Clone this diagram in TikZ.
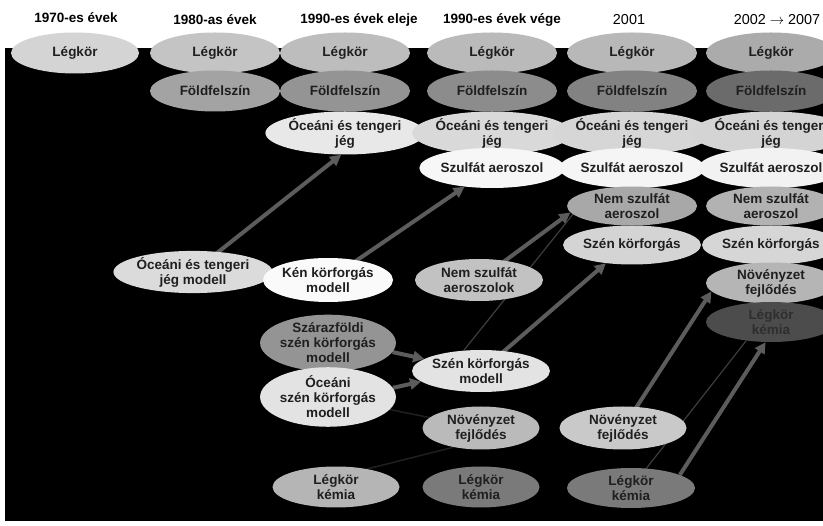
\documentclass[tikz,border=0pt]{standalone}
\usepackage{fontspec}
\setmainfont{Liberation Sans}
\usetikzlibrary{shapes.geometric,arrows.meta,backgrounds}

\begin{document}
\begin{tikzpicture}[x=1pt,y=-1pt,
    box/.style={ellipse,fill=#1,minimum width=130pt,minimum height=41pt,inner sep=0pt,
      align=center,text=black!88,font=\fontsize{13.5}{15}\selectfont\bfseries},
    head/.style={font=\fontsize{13.5}{15}\selectfont\bfseries},
    arr/.style={draw=black!64,line width=4pt,-{Triangle[length=11pt,width=11pt]}},
    thin/.style={draw=black!76,line width=1.2pt},
    faint/.style={draw=black!88,line width=1.5pt}]
    \useasboundingbox (0,0) rectangle (823,526);
    \clip (0,0) rectangle (823,526);

    \node[head] (h1) at (76,18) {1970-es évek};
    \node[head] (h2) at (215,20) {1980-as évek};
    \node[head] (h3) at (359,20) {1990-es évek eleje};
    \node[head] (h4) at (502,20) {1990-es évek vége};
    \node[font=\fontsize{14.4}{16}\selectfont] (h5) at (629,20) {2001};
    \node[font=\fontsize{14.4}{16}\selectfont] (h6) at (777,20) {2002 $\rightarrow$ 2007};

    \node[box=black!17,minimum width=128pt] (lk1) at (75,53) {Légkör};
    \foreach \n/\x/\g in {lk2/215/23,lk3/345/26,lk4/492/27,lk5/632/28,lk6/771/33}
      \node[box=black!\g] (\n) at (\x,53) {Légkör};
    \foreach \n/\x/\g in {ff2/215/36,ff3/345/42,ff4/492/45,ff5/632/49,ff6/771/58}
      \node[box=black!\g] (\n) at (\x,91) {Földfelszín};
    \foreach \n/\x/\g in {oj3/345/9,oj4/492/15,oj5/632/16,oj6/771/17}
      \node[box=black!\g,minimum height=43pt] (\n) at (\x,133) {Óceáni és tengeri\\jég};
    \foreach \n/\x/\g in {sa4/492/3,sa5/632/4,sa6/771/5}
      \node[box=black!\g,minimum height=40pt] (\n) at (\x,168) {Szulfát aeroszol};
    \node[box=black!34,minimum height=39pt] (ns5) at (632,206) {Nem szulfát\\aeroszol};
    \node[box=black!30,minimum height=39pt] (ns6) at (771,206) {Nem szulfát\\aeroszol};
    \node[box=black!17,minimum height=39pt] (sk5) at (632,245) {Szén körforgás};
    \node[box=black!16,minimum height=39pt] (sk6) at (771,245) {Szén körforgás};
    \node[box=black!29] (nf6) at (771,283) {Növényzet\\fejlődés};
    \node[box=black!70,minimum height=40pt,text=black!82] (lkk6) at (771,322) {Légkör\\kémia};

    \node[box=black!14,minimum width=127pt] (ojm) at (193,272) {Óceáni és tengeri\\jég modell};
    \node[box=black!2,minimum height=44pt] (kkm) at (328,280) {Kén körforgás\\modell};
    \node[box=black!24,minimum width=128pt,minimum height=42pt] (nsa) at (479,280) {Nem szulfát\\aeroszolok};
    \node[box=black!42,minimum width=127pt,minimum height=42pt] (szm) at (328,343) {Szárazföldi\\szén körforgás\\modell};
    \node[box=black!11,minimum width=129pt,minimum height=43pt] (oszm) at (328,397) {Óceáni\\szén körforgás\\modell};
    \node[box=black!11,minimum width=115pt,minimum height=42pt] (skm) at (481,371) {Szén körforgás\\modell};
    \node[box=black!27,minimum width=117pt,minimum height=43pt] (nf4) at (481,428) {Növényzet\\fejlődés};
    \node[box=black!21,minimum width=127pt,minimum height=43pt] (nf5) at (623,428) {Növényzet\\fejlődés};
    \node[box=black!29,minimum width=127pt] (lkk3) at (336,487) {Légkör\\kémia};
    \node[box=black!52,minimum width=117pt] (lkk4) at (481,487) {Légkör\\kémia};
    \node[box=black!52,minimum width=128pt,minimum height=40pt] (lkk5) at (631,488) {Légkör\\kémia};

    \begin{scope}[on background layer]
      \fill[white] (0,0) rectangle (823,526);
      \fill[black] (5,48) rectangle (823,521);
      \draw[faint] (oszm.center) -- (nf4);
      \draw[faint] (lkk3.30) -- (nf4.215);
      \draw[thin] (skm.130) -- (ns5.188);
      \draw[thin] (lkk5.center) -- (lkk6.217);
      \draw[arr] (ojm.center) -- (oj3.260);
      \draw[arr] (kkm.center) -- (sa4);
      \draw[arr] (nsa.center) -- (ns5.186);
      \draw[arr] (skm.center) -- (sk5.215);
      \draw[arr] (szm.-8) -- (skm.168);
      \draw[arr] (oszm.8) -- (skm.190);
      \draw[arr] (nf5.center) -- (nf6.188);
      \draw[arr] (lkk5.15) -- (lkk6.255);
    \end{scope}
\end{tikzpicture}
\end{document}
